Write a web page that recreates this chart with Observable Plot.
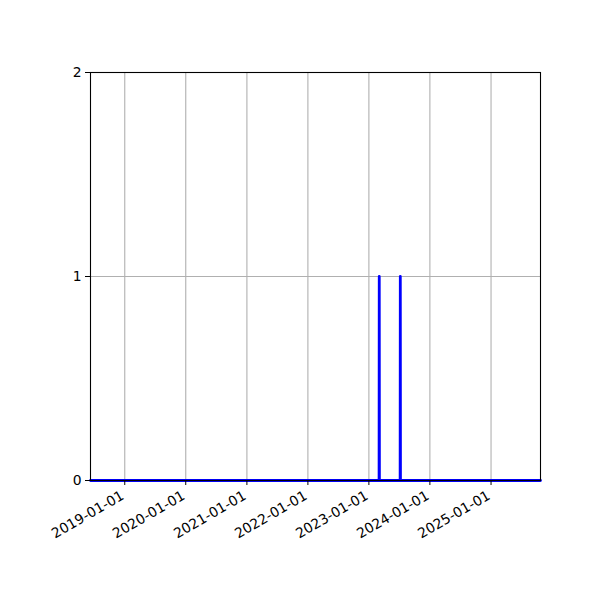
<!DOCTYPE html>
<html><head><meta charset="utf-8">
<script src="https://cdn.jsdelivr.net/npm/d3@7"></script>
<script src="https://cdn.jsdelivr.net/npm/@observablehq/plot@0.6"></script>
<style>body{margin:0;background:#fff} svg{font-family:"DejaVu Sans"}</style>
</head><body><div id="chart"></div>
<script>
const dates = ["2018-06-10","2023-03-03","2023-03-04","2023-03-05","2023-07-07","2023-07-08","2023-07-09","2025-10-24"];
const counts = [0,0,1,0,0,1,0,0];
const xTickLabels = ["2019-01-01","2020-01-01","2021-01-01","2022-01-01","2023-01-01","2024-01-01","2025-01-01"];
const yTicks = [0,1,2];
const xDomain = ["2018-06-10","2025-10-24"];

const data = dates.map((d,i)=>({date:new Date(d), count:counts[i]}));
const xTicks = xTickLabels.map(s=>new Date(s));
const fmt = d3.utcFormat("%Y-%m-%d");

const chart = Plot.plot({
  width:600, height:600,
  marginLeft:90, marginRight:60, marginTop:72, marginBottom:120,
  style:{fontFamily:"DejaVu Sans", fontSize:"13.9px", background:"white", color:"black", overflow:"visible"},
  x:{type:"utc", domain:xDomain.map(s=>new Date(s))},
  y:{domain:[0,2]},
  marks:[
    Plot.gridX(xTicks, {stroke:"#b0b0b0", strokeOpacity:1, strokeWidth:1.1}),
    Plot.gridY(yTicks, {stroke:"#b0b0b0", strokeOpacity:1, strokeWidth:1.1}),
    Plot.lineY(data, {x:"date", y:"count", stroke:"blue", strokeWidth:2.8}),
    Plot.frame({stroke:"black", strokeWidth:1.1}),
    Plot.axisX({ticks:xTicks, tickFormat:fmt, tickRotate:-30, tickSize:5, tickPadding:4, label:null, fontSize:13.9}),
    Plot.axisY({ticks:yTicks, tickFormat:"d", tickSize:5, tickPadding:4, label:null, fontSize:13.9})
  ]
});
const lbl = chart.querySelector('g[aria-label="x-axis tick label"]');
if (lbl) {
  const t = lbl.getAttribute("transform") || "";
  lbl.setAttribute("transform", "translate(-2,5) " + t);
}
document.getElementById("chart").append(chart);
</script>
</body></html>
